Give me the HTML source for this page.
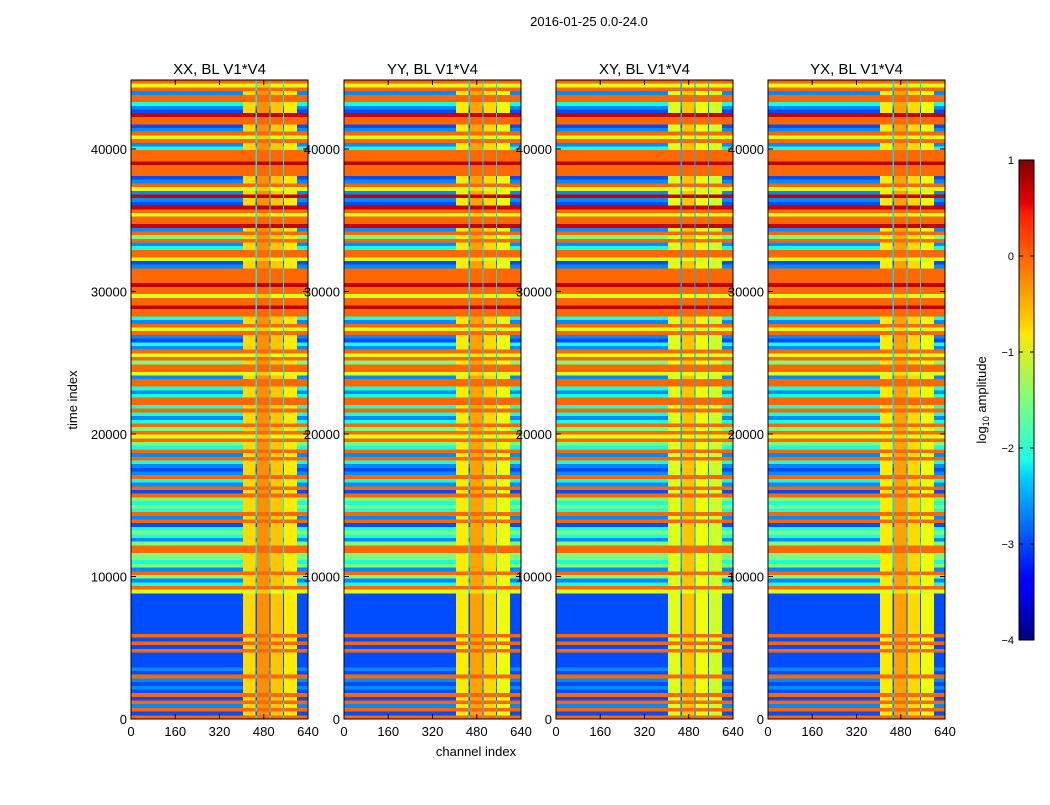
<!DOCTYPE html>
<html><head><meta charset="utf-8">
<style>
body{margin:0;background:#fff;}
svg text{font-family:"Liberation Sans",sans-serif;fill:#000;}
</style></head>
<body>
<svg id="fig" width="1050" height="800" viewBox="0 0 1050 800">
<defs>
<linearGradient id="jet" x1="0" y1="1" x2="0" y2="0">
<stop offset="0" stop-color="#000080"/><stop offset="0.11" stop-color="#0000ff"/>
<stop offset="0.125" stop-color="#0000ff"/><stop offset="0.34" stop-color="#00d0ff"/>
<stop offset="0.375" stop-color="#1affe6"/><stop offset="0.5" stop-color="#7dff7a"/>
<stop offset="0.64" stop-color="#ffe600"/><stop offset="0.66" stop-color="#ffd000"/>
<stop offset="0.89" stop-color="#ff1d00"/><stop offset="0.91" stop-color="#e80000"/>
<stop offset="1" stop-color="#800000"/>
</linearGradient>
</defs>
<text x="589" y="26" font-size="13" text-anchor="middle">2016-01-25 0.0-24.0</text>
<text transform="translate(77,400) rotate(-90)" font-size="13" text-anchor="middle">time index</text>
<text x="476" y="756" font-size="13" text-anchor="middle">channel index</text>
<g id="panels"></g>
<g>
<rect x="1019" y="160" width="15" height="480" fill="url(#jet)" stroke="#000" stroke-width="1"/>
<g id="cbticks"></g>
<text transform="translate(986,400) rotate(-90)" font-size="13" text-anchor="middle">log<tspan font-size="9" dy="3">10</tspan><tspan dy="-3"> amplitude</tspan></text>
</g>
</svg>
<script>
// Colour-level codes per time band (top of plot -> bottom), log10 amplitude
const R=0.7,O=0,Y=-0.9,G=-1.5,C=-2.1,B=-2.7,D=-3.0;
const rowLevels=[O,Y,O,B,O,O,C,B,D,R, O,O,D,B,O,Y,O,B,C,O, O,O,R,O,O,O,D,B,O,Y, B,R,B,D,R,O,Y,O,O,R,
 B,O,G,O,B,C,O,O,Y,D, B,O,O,O,O,R,O,O,Y,O, O,R,O,O,C,B,O,Y,O,B, D,C,B,O,Y,O,G,O,O,Y, B,O,O,C,B,C,O,
 O,C,O,C,B,C,O,G,O,Y, O,G,C,O,B,O,C,B,D,B, O,C,B,O,D,O,G,C,G,C, O,B,O,D,C,G,C,B,G,O,
 O,G,G,C,G,B,O,G,B,C, O,Y, D,D,D,D,D,D,D,D,D,D,D, O, D,O,D,O,D, D,D,D,B,D, O, B,D,B,D, O,D,O,B,O,D,O];
const totalRows=44840;
// RFI channel block segments (channel edges) and their levels
const blockEdges=[405,451,456,500,505,549,554,600];
const blockLevels=[-0.8,-2.4,-0.4,-2.4,-0.7,-2.4,-0.9];
const panelTitles=["XX, BL V1*V4","YY, BL V1*V4","XY, BL V1*V4","YX, BL V1*V4"];
const panelBoost=[0.2,0.1,-0.1,0.1];
const xTicks=[0,160,320,480,640];
const yTicks=[0,10000,20000,30000,40000];
const cbTicks=[1,0,-1,-2,-3,-4];

const panelX=[131,344,556,768], PW=177, PT=80, PB=719;
const NS="http://www.w3.org/2000/svg";
function yScale(t){return PB-(t/totalRows)*(PB-PT);}
function jet(v){
  let f=Math.max(0,Math.min(1,(v+4)/5));
  function seg(p){for(let i=0;i<p.length-1;i++){if(f<=p[i+1][0]){const a=p[i],b=p[i+1];return a[1]+(b[1]-a[1])*(f-a[0])/(b[0]-a[0]);}}return p[p.length-1][1];}
  const r=seg([[0,0],[0.35,0],[0.66,1],[0.89,1],[1,0.5]]);
  const g=seg([[0,0],[0.125,0],[0.375,1],[0.64,1],[0.91,0],[1,0]]);
  const b=seg([[0,0.5],[0.11,1],[0.34,1],[0.65,0],[1,0]]);
  return `rgb(${Math.round(r*255)},${Math.round(g*255)},${Math.round(b*255)})`;
}
function mk(tag,attrs,parent){const e=document.createElementNS(NS,tag);for(const k in attrs)e.setAttribute(k,attrs[k]);parent.appendChild(e);return e;}
const panels=document.getElementById('panels');
panelX.forEach((x0,p)=>{
  const xScale=ch=>x0+ch/640*PW;
  const g=mk('g',{},panels);
  
  
  const hm=mk('g',{'shape-rendering':'crispEdges'},g);
  
  
  const bandRows=totalRows/rowLevels.length;
  rowLevels.forEach((lv,i)=>{
    const tTop=totalRows-i*bandRows, tBot=tTop-bandRows;
    const y1=yScale(tTop), y2=yScale(tBot);
    const segs=[[0,blockEdges[0],lv]];
    for(let s=0;s<blockLevels.length;s++){
      const bl=blockLevels[s]+panelBoost[p];
      let v;
      if(blockLevels[s]<=-2) v=Math.min(lv,bl);
      else v=(lv< -0.9)?bl:Math.max(lv,bl-0.3);
      segs.push([blockEdges[s],blockEdges[s+1],v]);
    }
    segs.push([blockEdges[blockEdges.length-1],640,lv]);
    segs.forEach(sg=>{
      const r=mk('rect',{x:xScale(sg[0]).toFixed(2),y:y1.toFixed(2),width:(xScale(sg[1])-xScale(sg[0])+0.3).toFixed(2),height:(y2-y1+0.3).toFixed(2),fill:jet(sg[2])},hm);
      
      
    });
  });
  mk('rect',{x:x0,y:PT,width:PW,height:PB-PT,fill:'none',stroke:'#000','stroke-width':1},g);
  const t=mk('text',{x:x0+PW/2,y:74,'font-size':15,'text-anchor':'middle'},g);
  t.textContent=panelTitles[p];
  
  
  xTicks.forEach(v=>{
    const x=xScale(v);
    mk('line',{x1:x,x2:x,y1:PB,y2:PB-5,stroke:'#000'},g);
    mk('line',{x1:x,x2:x,y1:PT,y2:PT+5,stroke:'#000'},g);
    const l=mk('text',{x:x,y:PB+17,'font-size':13,'text-anchor':'middle'},g);
    l.textContent=v;
    
    
  });
  yTicks.forEach(v=>{
    const y=yScale(v);
    mk('line',{x1:x0,x2:x0+5,y1:y,y2:y,stroke:'#000'},g);
    mk('line',{x1:x0+PW,x2:x0+PW-5,y1:y,y2:y,stroke:'#000'},g);
    const l=mk('text',{x:x0-4,y:y+5,'font-size':13,'text-anchor':'end'},g);
    l.textContent=v;
    
    
  });
});
const cb=document.getElementById('cbticks');
cbTicks.forEach(v=>{
  const y=160+(1-v)/5*480;
  mk('line',{x1:1019,x2:1023,y1:y,y2:y,stroke:'#000'},cb);
  mk('line',{x1:1034,x2:1030,y1:y,y2:y,stroke:'#000'},cb);
  const l=mk('text',{x:1014,y:y+4,'font-size':11,'text-anchor':'end'},cb);
  l.textContent=v<0?'\u2212'+(-v):v;
  
  
});
</script>
</body></html>
